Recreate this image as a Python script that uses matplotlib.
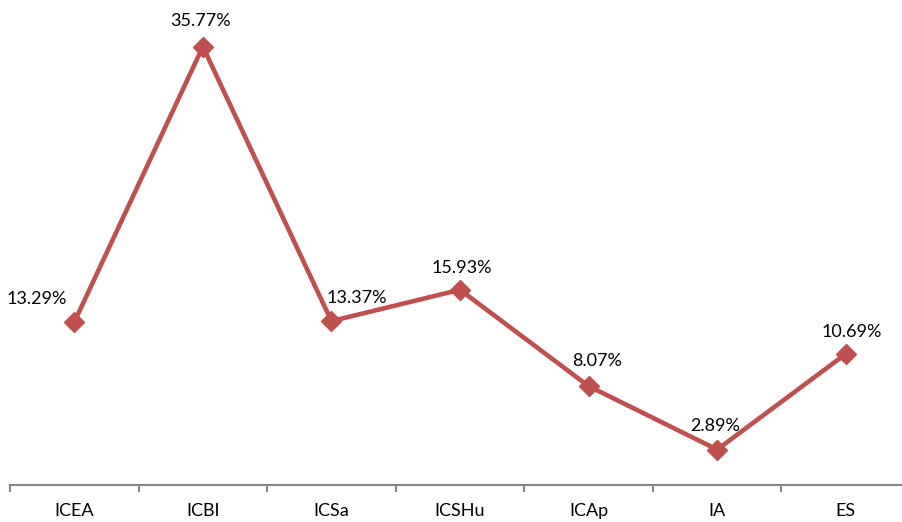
import matplotlib.pyplot as plt

categories = ["ICEA", "ICBI", "ICSa", "ICSHu", "ICAp", "IA", "ES"]
values = [13.29, 35.77, 13.37, 15.93, 8.07, 2.89, 10.69]
labels = ["13.29%", "35.77%", "13.37%", "15.93%", "8.07%", "2.89%", "10.69%"]

# label offsets in pixels (dx, dy, ha)
offsets = [(-7, 23, "right"), (-2, 26, "center"), (-5, 23, "left"),
           (2, 22, "center"), (8, 25, "center"), (-2, 24, "center"),
           (6, 22, "center")]

line_color = "#C0504D"
axis_color = "#868686"

plt.rcParams["font.family"] = ["Lato", "DejaVu Sans"]

fig = plt.figure(figsize=(9.02, 5.22), dpi=100)
ax = fig.add_axes([10 / 902, 37 / 522, 900 / 902, 485 / 522])

x = list(range(len(categories)))
ax.plot(x, values, color=line_color, linewidth=3.3, marker="D", markersize=10,
        markerfacecolor=line_color, markeredgecolor=line_color, zorder=3)

px = 72 / 100
for xi, v, lab, (dx, dy, ha) in zip(x, values, labels, offsets):
    ax.annotate(lab, (xi, v), xytext=(dx * px, dy * px), textcoords="offset points",
                ha=ha, va="center", fontsize=13, color="black")

ax.set_xlim(-0.5, len(categories) - 0.5)
ax.set_ylim(0, 39.57)

for side in ["top", "right", "left"]:
    ax.spines[side].set_visible(False)
ax.spines["bottom"].set_color(axis_color)
ax.spines["bottom"].set_linewidth(1.5)
ax.set_yticks([])

ax.set_xticks([i - 0.5 for i in range(len(categories) + 1)], minor=False)
ax.set_xticklabels([])
ax.tick_params(axis="x", which="major", length=5, width=1.5, color=axis_color)
ax.set_xticks(x, minor=True)
ax.set_xticklabels(categories, minor=True, fontsize=13)
ax.tick_params(axis="x", which="minor", length=0, pad=13)

fig.savefig("out.png", dpi=100)
